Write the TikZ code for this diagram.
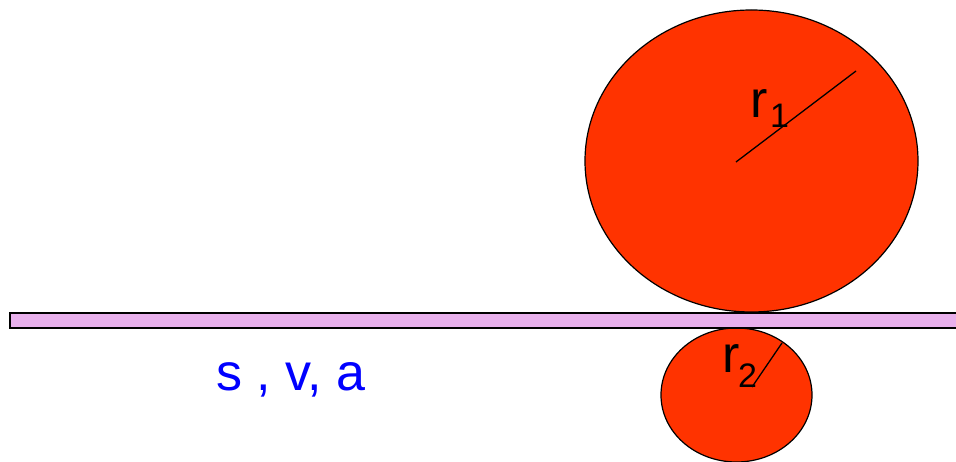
\documentclass[tikz,border=0pt]{standalone}
\usepackage{fontspec}
\setmainfont{Liberation Sans}
\usetikzlibrary{positioning}

\definecolor{rollred}{RGB}{255,51,0}
\definecolor{stripviolet}{RGB}{232,176,236}
\definecolor{motionblue}{RGB}{0,0,255}

\begin{document}
\begin{tikzpicture}[x=1pt, y=-1pt,
  roll/.style={draw, line width=1.2pt, fill=rollred},
  strip/.style={draw, line width=1.8pt, fill=stripviolet},
  radiusline/.style={line width=1.3pt},
  lbl/.style={inner sep=0pt, anchor=base west, font=\fontsize{52}{60}\selectfont},
  sub/.style={inner sep=0pt, anchor=base west, font=\fontsize{34}{40}\selectfont}
]
  \useasboundingbox (0,0) rectangle (956,462);
  % rolls
  \coordinate (c1) at (751.5,161);
  \coordinate (c2) at (736.5,395);
  \filldraw[roll] (c1) ellipse [x radius=166.5, y radius=151];
  \filldraw[roll] (c2) ellipse [x radius=75.5, y radius=67];
  % strip
  \draw[strip] (10,313) rectangle (970,328);
  % radii
  \coordinate (r1a) at (736,162);
  \coordinate (r1b) at (856,71);
  \coordinate (r2a) at (752,387);
  \coordinate (r2b) at (782,343);
  \draw[radiusline] (r1a) -- (r1b);
  \draw[radiusline] (r2a) -- (r2b);
  % labels
  \node[lbl] (r1) at (750,118) {r};
  \node[sub] (r1s) at (770,128) {1};
  \node[lbl] (r2) at (722,373) {r};
  \node[sub] (r2s) at (738,388) {2};
  \node[lbl, text=motionblue] (sva) at (216,390) {s , v, a};
\end{tikzpicture}
\end{document}
